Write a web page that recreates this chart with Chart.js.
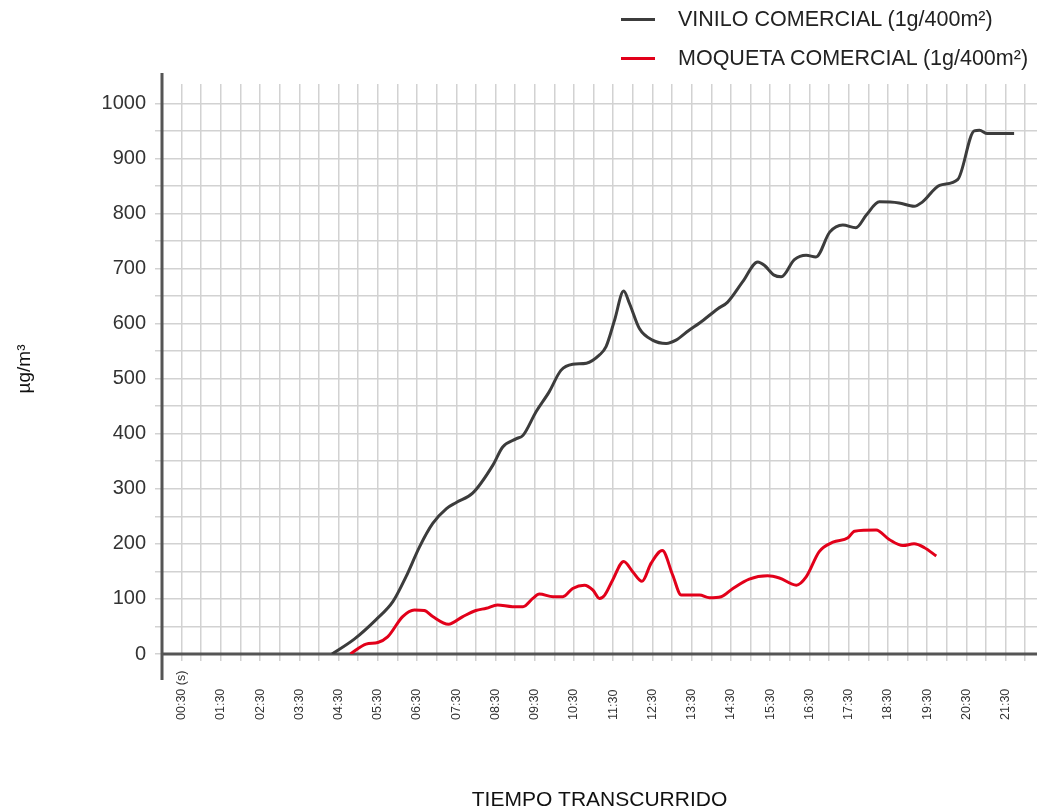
<!DOCTYPE html>
<html>
<head>
<meta charset="utf-8">
<title>Vinilo vs moqueta</title>
<script src="https://cdn.jsdelivr.net/npm/chart.js@4.4.1/dist/chart.umd.min.js"></script>
<style>
  body { margin: 0; background: #fff; font-family: "Liberation Sans", Arial, sans-serif; }
  #wrap { position: relative; width: 1037px; height: 811px; }
  .legend-row { position: absolute; left: 621px; display: flex; align-items: center;
                white-space: nowrap; font-size: 21.5px; line-height: 24px; color: #222; }
  .legend-row .swatch { width: 34px; height: 3px; margin-right: 23px; }
</style>
</head>
<body>
<div id="wrap">
  <canvas id="chart"></canvas>
  <div id="legend"></div>
</div>
<script>
// ── data (time in seconds, value in µg/m³) ──
const VINILO_T = [260, 294, 327, 353, 373, 394, 414, 435, 450, 475, 506, 521, 542, 552, 572, 592, 610, 628, 649, 669,
  679, 692, 706, 715, 730, 750, 771, 786, 806, 822, 850, 865, 888, 911, 921, 936, 947, 967, 985, 1000,
  1021, 1041, 1061, 1077, 1097, 1127, 1150, 1163, 1189, 1217, 1242, 1250, 1262, 1303];
const VINILO_V = [0, 27, 62, 95, 140, 195, 237, 264, 275, 292, 343, 376, 391, 397, 440, 476, 515, 526, 528, 543,
  558, 606, 659, 636, 591, 570, 564, 570, 588, 601, 627, 639, 676, 712, 706, 688, 685, 716, 724, 721,
  766, 779, 774, 797, 821, 819, 813, 821, 851, 862, 950, 951, 945, 945];

const MOQUETA_T = [288, 312, 330, 345, 368, 386, 401, 414, 438, 460, 480, 496, 513, 536, 552, 567, 577, 598, 613, 628,
  646, 659, 669, 677, 689, 706, 720, 734, 748, 765, 781, 794, 822, 837, 855, 873, 898, 926, 944, 970,
  985, 1005, 1026, 1049, 1059, 1092, 1112, 1133, 1150, 1166, 1184];
const MOQUETA_V = [0, 18, 21, 31, 68, 80, 79, 68, 54, 68, 79, 83, 89, 86, 86, 101, 109, 104, 104, 119,
  125, 116, 101, 107, 134, 168, 149, 132, 165, 188, 143, 107, 107, 102, 104, 119, 136, 142, 138, 125,
  140, 186, 203, 211, 223, 225, 208, 197, 200, 193, 178];

const TIME_LABELS = ['00:30 (s)', '01:30', '02:30', '03:30', '04:30', '05:30', '06:30', '07:30', '08:30', '09:30', '10:30',
  '11:30', '12:30', '13:30', '14:30', '15:30', '16:30', '17:30', '18:30', '19:30', '20:30', '21:30'];

const SERIES = [
  { label: 'VINILO COMERCIAL (1g/400m²)', color: '#3c3c3c', t: VINILO_T, v: VINILO_V },
  { label: 'MOQUETA COMERCIAL (1g/400m²)', color: '#e2001a', t: MOQUETA_T, v: MOQUETA_V },
];

const AXIS_COLOR = '#555555';
const GRID_COLOR = '#d2d2d2';
const TEXT_COLOR = '#333333';
const FONT = '"Liberation Sans", Arial, sans-serif';

Chart.defaults.font.family = FONT;

// HTML legend, one row per series
const legend = document.getElementById('legend');
SERIES.forEach((s, i) => {
  const row = document.createElement('div');
  row.className = 'legend-row';
  row.style.top = (7 + i * 39) + 'px';
  const sw = document.createElement('span');
  sw.className = 'swatch';
  sw.style.background = s.color;
  row.appendChild(sw);
  row.appendChild(document.createTextNode(s.label));
  legend.appendChild(row);
});

// thick axis lines that run past the plot area
const axisLines = {
  id: 'axisLines',
  beforeDatasetsDraw(chart) {
    const { ctx, chartArea: a } = chart;
    ctx.save();
    ctx.strokeStyle = AXIS_COLOR;
    ctx.lineWidth = 3;
    ctx.beginPath();
    ctx.moveTo(a.left, a.top - 11);
    ctx.lineTo(a.left, a.bottom + 26);
    ctx.moveTo(a.left, a.bottom);
    ctx.lineTo(chart.width, a.bottom);
    ctx.stroke();
    ctx.restore();
  },
};

// vertical time labels, anchored at their bottom end
const timeLabels = {
  id: 'timeLabels',
  afterDraw(chart) {
    const { ctx } = chart;
    const xs = chart.scales.x;
    ctx.save();
    ctx.font = '12.5px ' + FONT;
    ctx.fillStyle = TEXT_COLOR;
    ctx.textAlign = 'left';
    ctx.textBaseline = 'middle';
    TIME_LABELS.forEach((lbl, i) => {
      const px = xs.getPixelForValue(30 + i * 60);
      ctx.save();
      ctx.translate(px, 720);
      ctx.rotate(-Math.PI / 2);
      ctx.fillText(lbl, 0, 0);
      ctx.restore();
    });
    ctx.restore();
  },
};

new Chart(document.getElementById('chart'), {
  type: 'line',
  data: {
    datasets: SERIES.map(s => ({
      label: s.label,
      data: s.t.map((t, i) => ({ x: t, y: s.v[i] })),
      borderColor: s.color,
      backgroundColor: s.color,
      borderWidth: 3,
      pointRadius: 0,
      cubicInterpolationMode: 'monotone',
      fill: false,
    })),
  },
  options: {
    responsive: true,
    maintainAspectRatio: false,
    animation: false,
    layout: { padding: { top: 84, left: 0, right: 0, bottom: 0 } },
    plugins: { legend: { display: false }, tooltip: { enabled: false } },
    scales: {
      x: {
        type: 'linear',
        min: 0,
        max: 1338,
        afterFit: scale => { scale.height = 157; },
        border: { display: false },
        grid: { color: GRID_COLOR, lineWidth: 1.5, tickLength: 7, tickColor: GRID_COLOR },
        ticks: { stepSize: 30, includeBounds: false, display: false },
        title: {
          display: true,
          text: 'TIEMPO TRANSCURRIDO',
          color: '#111',
          font: { size: 21, lineHeight: 1 },
          padding: { top: 0, bottom: 0 },
        },
      },
      y: {
        min: 0,
        max: 1035,
        afterFit: scale => { scale.width = 162; },
        border: { display: false },
        grid: { color: GRID_COLOR, lineWidth: 1.5, tickLength: 7, tickColor: GRID_COLOR },
        ticks: {
          stepSize: 50,
          includeBounds: false,
          padding: 9,
          color: TEXT_COLOR,
          font: { size: 20 },
          callback: v => (v % 100 === 0 ? String(v) : ''),
        },
        title: {
          display: true,
          text: 'µg/m³',
          color: '#111',
          font: { size: 19 },
          padding: { top: 13, bottom: 0 },
        },
      },
    },
  },
  plugins: [axisLines, timeLabels],
});
</script>
</body>
</html>
